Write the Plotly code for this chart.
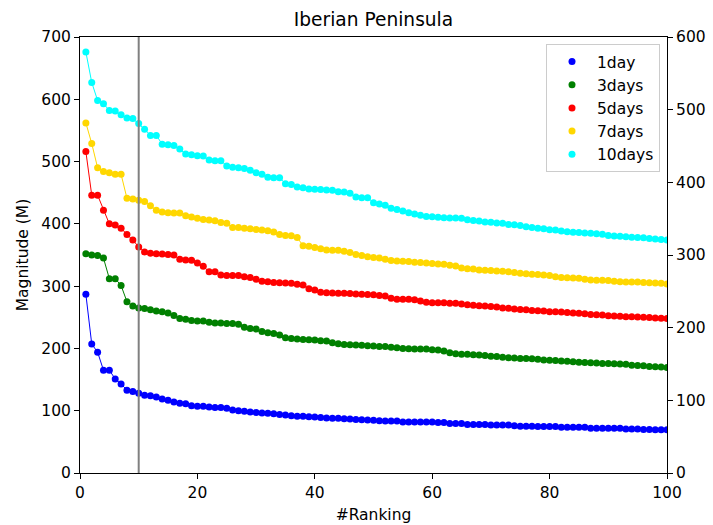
import plotly.graph_objects as go

ranking = list(range(1, 101))

day1 = [287, 207, 194, 165, 165, 151, 143, 133, 131, 128,
        125, 124, 122, 119, 117, 114, 112, 111, 108, 107,
        107, 106, 105, 105, 104, 101, 100, 99, 98, 97,
        96.5, 96, 95, 94, 93, 92, 91, 91, 90.5, 90,
        89, 88.5, 88, 88, 87, 86.5, 86, 85.5, 85, 84.5,
        84, 83.5, 83.5, 83.5, 82, 82, 82, 82, 82, 82,
        81, 81, 79.5, 79.5, 79.5, 78, 78, 78, 78, 77,
        77, 77, 77, 76, 75, 75, 75, 74.5, 74.5, 74.5,
        74.5, 73.5, 73.5, 73.5, 73.5, 73.5, 72, 72, 72, 72,
        72, 72, 70.5, 70.5, 70.5, 70, 70, 69.5, 69.5, 69.5]

days3 = [352, 350, 349, 345, 312, 312, 301, 275, 268, 265,
         264, 262, 260, 259, 257, 253, 248, 247, 245, 244,
         244, 242, 241, 241, 240, 240, 239, 234, 232, 231,
         227, 225, 224, 221.5, 217, 216, 215, 214.5, 214, 213.5,
         212.5, 212, 209, 207.5, 206.5, 206, 205.5, 205, 204.5, 204,
         203, 203, 202, 201, 200, 199.5, 199, 199, 199, 198,
         197.5, 196, 193, 191.5, 190.5, 190.5, 190, 189.5, 188.5, 187.5,
         187, 186, 185, 184.5, 184, 184, 183.5, 182.5, 181.5, 181,
         180.5, 180, 179.5, 178.5, 178, 177.5, 177, 176.5, 176, 176,
         175.5, 175, 174.5, 173, 172.5, 172, 171, 170.5, 170, 169.5]

days5 = [516, 446, 446, 422, 400, 398, 393, 383, 374, 363,
         355, 353, 352, 351.5, 351, 350, 343, 342, 341.5, 337,
         332, 323, 323, 318, 317, 317, 317, 315, 314, 311,
         308, 307, 306, 305.5, 305, 304.5, 303, 302, 296, 294,
         290, 289.5, 289, 288.5, 288.5, 288, 287.5, 287, 286.5, 286,
         285, 284, 280.5, 279, 279, 279, 278, 276, 274, 273.5,
         273.5, 273.5, 272.5, 272.5, 271.5, 270, 269.5, 268.5, 268, 267.5,
         266.5, 265, 264.5, 263.5, 262.5, 262, 261, 260.5, 260, 259,
         259, 258.5, 257.5, 257, 256.5, 255.5, 254.5, 254, 253.5, 252.5,
         252, 251.5, 251, 251, 250.5, 250, 249.5, 249, 248.5, 248]

days7 = [562, 529, 490, 484, 482, 479.5, 479.5, 441, 440, 438,
         436, 429, 422, 419, 418, 417.5, 417.5, 413, 411, 409,
         407, 406, 405, 402, 401, 394, 394, 393, 392, 391,
         390, 389, 387, 383, 381.5, 381, 378, 365, 364, 362,
         360, 358, 357.5, 357.5, 356, 354, 351, 349, 347, 346,
         345, 343, 341, 340.5, 340, 339.5, 338.5, 338, 337, 336.5,
         335.5, 335, 333.5, 332.5, 329, 328, 327.5, 326, 325.5, 325,
         324.5, 324, 323, 322, 320.5, 320, 319, 318.5, 318, 317,
         315, 314, 313.5, 313, 312.5, 311, 310, 309.5, 309.5, 309,
         308, 307, 306.5, 306.5, 306.5, 306, 305.5, 305, 304.5, 303.5]

days10 = [676, 627, 598, 593, 582, 581, 575, 570, 569, 561,
          552, 542, 542, 528, 527, 526, 520, 512, 511, 509.5,
          509, 502.5, 501.5, 501.5, 493, 491, 490, 489, 486, 482,
          479.5, 475, 474, 474, 464.5, 463, 459, 458, 456, 455.5,
          455, 454.5, 454, 451.5, 451, 449, 443, 442, 442, 434,
          432, 430, 425, 423, 420.5, 418, 416, 414, 412, 411.5,
          410.5, 410, 409.5, 409.5, 409, 406.5, 405.5, 404.5, 403, 402.5,
          401.5, 401, 399, 398.5, 397.5, 395.5, 394, 393, 392, 390.5,
          390, 388.5, 387.5, 386.5, 386, 385.5, 385, 384, 383.5, 381.5,
          380.5, 380, 379.5, 378.5, 378, 377.5, 376.5, 375.5, 375, 374]

series_names = ["1day", "3days", "5days", "7days", "10days"]
series_values = [day1, days3, days5, days7, days10]
series_colors = ["#0000ff", "#008000", "#ff0000", "#ffd700", "#00ffff"]

cutoff_rank = 10

FONT = "DejaVu Sans"

fig = go.Figure()

for name, vals, col in zip(series_names, series_values, series_colors):
    fig.add_trace(go.Scatter(x=ranking, y=vals, mode="lines",
                             line=dict(color=col, width=1),
                             showlegend=False, hoverinfo="skip"))
for name, vals, col in zip(series_names, series_values, series_colors):
    fig.add_trace(go.Scatter(x=ranking, y=vals, mode="markers", name=name,
                             marker=dict(color=col, size=7, line=dict(width=0))))

# empty trace so that the secondary (right) axis is drawn
fig.add_trace(go.Scatter(x=[None], y=[None], yaxis="y2", mode="markers",
                         showlegend=False, hoverinfo="skip"))

fig.add_shape(type="line", x0=cutoff_rank, x1=cutoff_rank, xref="x",
              y0=0, y1=1, yref="paper",
              line=dict(color="#808080", width=2), layer="above")

axis_common = dict(showgrid=False, zeroline=False, showline=True,
                   linecolor="black", linewidth=1, ticks="outside",
                   ticklen=5, tickwidth=1, tickcolor="black", automargin=False,
                   tickfont=dict(family=FONT, size=15.5, color="black"))

fig.update_layout(
    width=713, height=525,
    margin=dict(l=80, r=46, t=37, b=52, pad=0),
    paper_bgcolor="white", plot_bgcolor="white",
    font=dict(family=FONT, color="black"),
    title=dict(text="Iberian Peninsula", x=0.5, xref="paper",
               xanchor="center", y=1 - 19 / 525, yref="container",
               yanchor="middle", font=dict(family=FONT, size=18.6, color="black")),
    xaxis=dict(range=[0, 100], tickvals=[0, 20, 40, 60, 80, 100], mirror=True,
               title=dict(text="#Ranking", standoff=8,
                          font=dict(family=FONT, size=15.5)),
               **axis_common),
    yaxis=dict(range=[0, 700], tickvals=[0, 100, 200, 300, 400, 500, 600, 700],
               title=dict(text="Magnitude (M)", standoff=8,
                          font=dict(family=FONT, size=15.5)),
               **axis_common),
    yaxis2=dict(range=[0, 600], tickvals=[0, 100, 200, 300, 400, 500, 600],
                overlaying="y", side="right", anchor="x", **axis_common),
    legend=dict(x=(660 - 80) / 587, xanchor="right", y=(473 - 44) / 436,
                yanchor="top", bgcolor="rgba(255,255,255,0.8)",
                bordercolor="#cccccc", borderwidth=1,
                font=dict(family=FONT, size=15.5, color="black"),
                itemwidth=40),
    showlegend=True,
)

fig.write_html("out.html")
